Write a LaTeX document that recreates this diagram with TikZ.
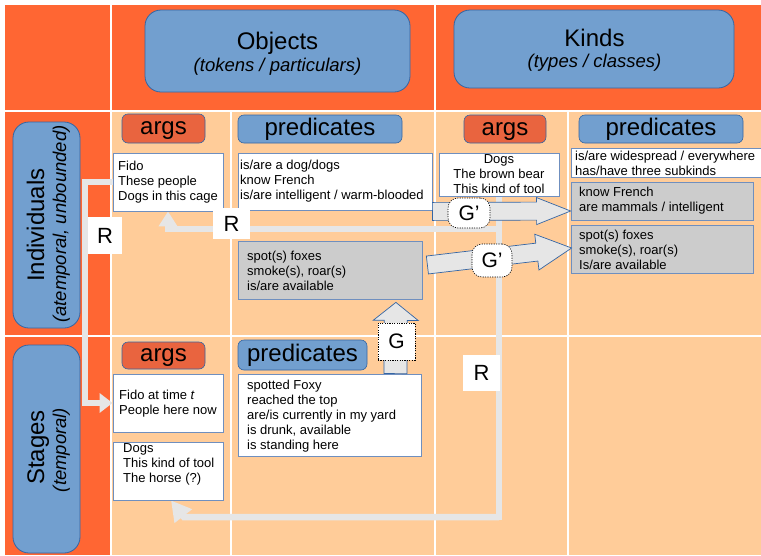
\documentclass[tikz,border=0pt]{standalone}
\usepackage{fontspec}
\setmainfont{Liberation Sans}
\usetikzlibrary{calc,arrows.meta}
\pgfdeclarelayer{bg}
\pgfdeclarelayer{conn}
\pgfsetlayers{bg,conn,main}
\definecolor{dorange}{HTML}{FF6633}
\definecolor{lorange}{HTML}{FFCC99}
\definecolor{hblue}{HTML}{729FCF}
\definecolor{bblue}{HTML}{3465A4}
\definecolor{argred}{HTML}{E9643F}
\definecolor{tborder}{HTML}{6F8FBF}
\definecolor{gboxc}{HTML}{CCCCCC}
\definecolor{rgray}{HTML}{E6E6E6}
\tikzset{
 gridl/.style={white, line width=1.4pt},
 bigbox/.style={draw=bblue, fill=hblue, line width=0.8pt, rounded corners=16pt, inner sep=0pt},
 hdrA/.style={draw=bblue, fill=argred, line width=0.6pt, rounded corners=6pt, inner sep=0pt, text height=17.3pt, text depth=5pt, font=\fontsize{24}{28}\selectfont},
 hdrP/.style={hdrA, fill=hblue},
 tbox/.style={draw=tborder, fill=white, line width=0.8pt, inner sep=0pt},
 gybox/.style={tbox, fill=gboxc},
 ttext/.style={align=left, inner sep=0pt, font=\fontsize{13}{15}\selectfont},
 htitle/.style={inner sep=0pt, font=\fontsize{24}{28}\selectfont},
 hsub/.style={inner sep=0pt, font=\fontsize{18.5}{22}\selectfont\itshape},
 rline/.style={draw=rgray, line width=6.5pt},
 rlab/.style={fill=white, inner sep=0pt, font=\fontsize{22}{26}\selectfont},
 glab/.style={fill=white, draw=black, line width=0.6pt, dash pattern=on 1.2pt off 1.2pt, inner sep=0pt, font=\fontsize{21}{25}\selectfont},
 barrow/.style={fill=rgray, draw=bblue, line width=0.7pt},
}
\newcommand{\blockarrow}[5]{%
 \coordinate (bahead) at ($(#2)!#5!(#1)$);
 \filldraw[barrow] ($(#1)!#3!90:(#2)$) -- ($(bahead)!#3!90:(#2)$) -- ($(bahead)!#4!90:(#2)$) -- (#2)
   -- ($(bahead)!#4!-90:(#2)$) -- ($(bahead)!#3!-90:(#2)$) -- ($(#1)!#3!-90:(#2)$) -- cycle;}
\begin{document}
\begin{tikzpicture}[x=1pt,y=-1pt]
\useasboundingbox (0,0) rectangle (761,555);
\begin{pgfonlayer}{bg}
\fill[white] (0,0) rectangle (761,555);
\fill[dorange] (5,5) rectangle (761,111);
\fill[dorange] (5,111) rectangle (111,555);
\fill[lorange] (111,111) rectangle (761,555);
\draw[gridl] (111,5) -- (111,555);
\draw[gridl] (435,5) -- (435,555);
\draw[gridl] (231,111) -- (231,555);
\draw[gridl] (568,111) -- (568,555);
\draw[gridl] (5,111) -- (761,111);
\draw[gridl] (5,336) -- (761,336);
\end{pgfonlayer}

% column headers
\node[bigbox, minimum width=265pt, minimum height=82pt] (objects) at (277.5,51) {};
\node[htitle, anchor=base] at (277.5,49) {Objects};
\node[hsub, anchor=base] at (277.5,71) {(tokens / particulars)};
\node[bigbox, minimum width=280pt, minimum height=78pt] (kinds) at (594,49) {};
\node[htitle, anchor=base] at (594.5,46) {Kinds};
\node[hsub, anchor=base] at (594.5,67.5) {(types / classes)};

% row headers
\node[bigbox, minimum width=67pt, minimum height=206pt] (indiv) at (46.5,225) {};
\node[htitle, rotate=90, anchor=base] at (44,225) {Individuals};
\node[hsub, rotate=90, anchor=base] at (66,224) {(atemporal, unbounded)};
\node[bigbox, minimum width=67pt, minimum height=208pt] (stages) at (46.5,449) {};
\node[htitle, rotate=90, anchor=base] at (44,447.5) {Stages};
\node[hsub, rotate=90, anchor=base] at (66,450) {(temporal)};

% sub headers
\node[hdrA, minimum width=83pt, minimum height=29pt] (oargsH) at (163.5,128.5) {args};
\node[hdrP, minimum width=164pt, minimum height=28pt] (opredH) at (320,129) {predicates};
\node[hdrA, minimum width=82pt, minimum height=28pt] (kargsH) at (505,129) {args};
\node[hdrP, minimum width=164pt, minimum height=28pt] (kpredH) at (661,129) {predicates};
\node[hdrA, minimum width=83pt, minimum height=27pt] (sargsH) at (163.5,355.5) {args};
\node[hdrP, minimum width=129pt, minimum height=30pt] (spredH) at (302.5,355) {predicates};

% text boxes
\node[tbox, minimum width=110pt, minimum height=58pt] (fido) at (168,182) {};
\node[ttext, anchor=west] at (118,182) {Fido\\These people\\Dogs in this cage};
\node[tbox, minimum width=194pt, minimum height=57pt] (opreds) at (335,181.5) {};
\node[ttext, anchor=west] at (240,181.5) {is/are a dog/dogs\\know French\\is/are intelligent / warm-blooded};
\node[tbox, minimum width=120pt, minimum height=43pt, align=center, font=\fontsize{13}{15}\selectfont] (kargs) at (499,174.5) {Dogs\\The brown bear\\This kind of tool};
\node[tbox, minimum width=192pt, minimum height=29pt] (kpreds) at (667,162.5) {};
\node[ttext, anchor=west] at (575,163) {is/are widespread / everywhere\\has/have three subkinds};
\node[gybox, minimum width=182pt, minimum height=38pt] (kgray1) at (662,201) {};
\node[ttext, anchor=west] at (579,201) {know French\\are mammals / intelligent};
\node[gybox, minimum width=182pt, minimum height=48pt] (kgray2) at (662,249) {};
\node[ttext, anchor=west] at (579,249.5) {spot(s) foxes\\smoke(s), roar(s)\\Is/are available};
\node[gybox, minimum width=184pt, minimum height=58pt] (ogray) at (330,270) {};
\node[ttext, anchor=west] at (247,271) {spot(s) foxes\\smoke(s), roar(s)\\is/are available};
\node[tbox, minimum width=110pt, minimum height=58pt] (stfido) at (168,403) {};
\node[ttext, anchor=west] at (119,404) {Fido at time \textit{t}\\People here now};
\node[tbox, minimum width=110pt, minimum height=58pt] (dogs) at (168,471) {};
\node[ttext, anchor=west] at (123,464) {Dogs\\This kind of tool\\The horse (?)};
\node[tbox, minimum width=183pt, minimum height=82pt] (spreds) at (329.5,415) {};
\node[ttext, anchor=west] at (247,416) {spotted Foxy\\reached the top\\are/is currently in my yard\\is drunk, available\\is standing here};

% R connectors (on a layer under the boxes)
\begin{pgfonlayer}{conn}
\coordinate (rleft) at (85,0);
\draw[rline, -{Triangle[length=13pt,width=19pt]}] (fido.west) -- (fido.west -| rleft) |- (stfido.west);
\coordinate (rbranch) at (kargs.south |- 0,229);
\coordinate (rcorner) at (kargs.south |- 0,517);
\coordinate (rbend) at (184,517);
\coordinate (dogsin) at ($(dogs.south)+(3,0)$);
\draw[rline] (kargs.south) -- (rcorner) -- (rbend);
\draw[rline, -{Triangle[length=20pt,width=21pt]}] (rcorner) -- (rbend) -- (dogsin);
\draw[rline, -{Triangle[length=15pt,width=18pt]}] (rbranch) -| (fido.south);
\end{pgfonlayer}

% block arrows
\coordinate (gS) at ($(spreds.north east)+(-26,0)$);
\coordinate (gE) at ($(ogray.south east)+(-26.5,3)$);
\blockarrow{gS}{gE}{11.5pt}{22.5pt}{18pt}
\coordinate (g1s) at ($(opreds.south east)+(0,1)$);
\coordinate (g1e) at ($(kgray1.west)+(0,10)$);
\blockarrow{g1s}{g1e}{9pt}{13.5pt}{34pt}
\coordinate (g2s) at ($(ogray.east)+(5,-5)$);
\coordinate (g2e) at ($(kgray2.west)+(1,-1)$);
\blockarrow{g2s}{g2e}{9pt}{18pt}{35pt}

% labels
\node[rlab, minimum width=34pt, minimum height=37pt] (r1) at (105,235.5) {R};
\node[rlab, minimum width=37pt, minimum height=31pt] (r2) at (231.5,223.5) {R};
\node[rlab, minimum width=37pt, minimum height=36pt] (r3) at (481.5,373) {R};
\node[glab, minimum width=37pt, minimum height=37pt] (g) at (396.5,341.5) {G};
\node[glab, rounded corners=10pt, minimum width=42pt, minimum height=30pt] (gp1) at (469,213) {G’};
\node[glab, rounded corners=10pt, minimum width=40pt, minimum height=33pt] (gp2) at (492,260.5) {G’};
\end{tikzpicture}
\end{document}
